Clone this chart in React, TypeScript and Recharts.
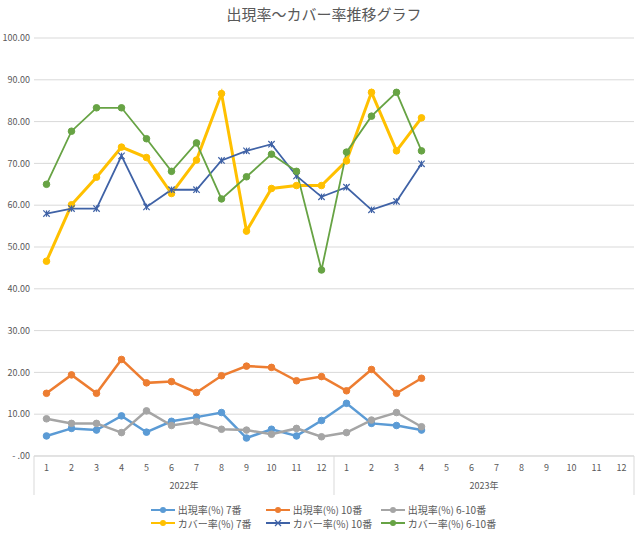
import React from 'react';
import { LineChart, Line, XAxis, YAxis, CartesianGrid, Legend } from 'recharts';

const months = ['1','2','3','4','5','6','7','8','9','10','11','12','1','2','3','4','5','6','7','8','9','10','11','12'];
const years = ['2022年','2022年','2022年','2022年','2022年','2022年','2022年','2022年','2022年','2022年','2022年','2022年','2023年','2023年','2023年','2023年','2023年','2023年','2023年','2023年','2023年','2023年','2023年','2023年'];

const appear7 = [4.8, 6.6, 6.2, 9.6, 5.7, 8.3, 9.3, 10.4, 4.3, 6.4, 4.8, 8.5, 12.6, 7.8, 7.3, 6.2];
const appear10 = [15.0, 19.4, 15.0, 23.1, 17.5, 17.8, 15.2, 19.2, 21.5, 21.2, 18.0, 19.0, 15.6, 20.7, 15.0, 18.6];
const appear610 = [8.9, 7.8, 7.8, 5.6, 10.8, 7.3, 8.2, 6.4, 6.2, 5.2, 6.6, 4.6, 5.6, 8.6, 10.4, 7.0];
const cover7 = [46.6, 60.1, 66.7, 73.9, 71.4, 62.8, 70.8, 86.7, 53.8, 64.0, 64.7, 64.7, 70.6, 87.0, 73.0, 80.9];
const cover10 = [58.0, 59.2, 59.2, 71.8, 59.6, 63.7, 63.7, 70.7, 73.0, 74.6, 67.0, 62.0, 64.3, 58.9, 60.9, 69.9];
const cover610 = [65.0, 77.7, 83.3, 83.3, 75.9, 68.1, 74.9, 61.5, 66.8, 72.2, 68.1, 44.5, 72.7, 81.3, 87.0, 73.0];

const yTicks = [0, 10, 20, 30, 40, 50, 60, 70, 80, 90, 100];

const seriesDefs = [
  { key: 'appear7', name: '出現率(%) 7番', color: '#5B9BD5', width: 2.5, marker: 'circle' },
  { key: 'appear10', name: '出現率(%) 10番', color: '#ED7D31', width: 2.5, marker: 'circle' },
  { key: 'appear610', name: '出現率(%) 6-10番', color: '#A5A5A5', width: 2.5, marker: 'circle' },
  { key: 'cover7', name: 'カバー率(%) 7番', color: '#FFC000', width: 3, marker: 'circle' },
  { key: 'cover10', name: 'カバー率(%) 10番', color: '#3F62A6', width: 1.8, marker: 'star' },
  { key: 'cover610', name: 'カバー率(%) 6-10番', color: '#67A344', width: 1.8, marker: 'circle' },
];

const seriesValues: Record<string, number[]> = { appear7, appear10, appear610, cover7, cover10, cover610 };

const data = months.map((m, i) => {
  const row: any = { idx: i, month: m, year: years[i] };
  for (const s of seriesDefs) {
    const v = seriesValues[s.key][i];
    row[s.key] = v === undefined ? null : v;
  }
  return row;
});

const FONT = '"Noto Sans CJK JP", "Noto Sans", sans-serif';
const TEXT = '#595959';
const AXIS = '#d9d9d9';

const MonthTick = (props: any) => {
  const { x, y, payload } = props;
  const i = Number(payload.value);
  const off = payload && payload.offset ? payload.offset : 0;
  const isLastOfYear = i === years.length - 1 || years[i] !== years[i + 1];
  const isMidOfYear = months[i] === '6';
  return (
    <g>
      <text x={x} y={y + 15} textAnchor="middle" fill={TEXT} fontSize={9} fontFamily={FONT}>{months[i]}</text>
      {i === 0 && <line x1={x - off} x2={x - off} y1={y} y2={y + 39} stroke={AXIS} />}
      {isLastOfYear && <line x1={x + off} x2={x + off} y1={y} y2={y + 39} stroke={AXIS} />}
      {isMidOfYear && (
        <text x={x + off} y={y + 33} textAnchor="middle" fill={TEXT} fontSize={9} fontFamily={FONT}>{years[i]}</text>
      )}
    </g>
  );
};

const makeDot = (color: string, marker: string) => (props: any) => {
  const { cx, cy, index, value } = props;
  if (cx == null || cy == null || value == null || (Array.isArray(value) && value[1] == null)) {
    return <g key={`d-${index}`} />;
  }
  if (marker === 'star') {
    const r = 3.2;
    return (
      <g key={`d-${index}`} stroke={color} strokeWidth={1.2}>
        <line x1={cx - r} y1={cy - r} x2={cx + r} y2={cy + r} />
        <line x1={cx - r} y1={cy + r} x2={cx + r} y2={cy - r} />
        <line x1={cx} y1={cy - r} x2={cx} y2={cy + r} />
      </g>
    );
  }
  return <circle key={`d-${index}`} cx={cx} cy={cy} r={3.3} fill={color} stroke={color} strokeWidth={1} />;
};

const LegendIcon = ({ color, marker }: { color: string; marker: string }) => (
  <svg width={26} height={10} style={{ marginRight: 2, flexShrink: 0 }}>
    <line x1={1} y1={5} x2={25} y2={5} stroke={color} strokeWidth={2} />
    {marker === 'star' ? (
      <g stroke={color} strokeWidth={1.2}>
        <line x1={10} y1={2} x2={16} y2={8} />
        <line x1={10} y1={8} x2={16} y2={2} />
      </g>
    ) : (
      <circle cx={13} cy={5} r={3} fill={color} />
    )}
  </svg>
);

const renderLegend = () => (
  <div style={{ display: 'flex', justifyContent: 'center', height: 34, paddingTop: 7, paddingLeft: 12, boxSizing: 'border-box' }}>
    <div style={{ display: 'grid', gridTemplateColumns: '115px 115px auto', rowGap: 0 }}>
      {seriesDefs.map((s) => (
        <div key={s.key} style={{ display: 'flex', alignItems: 'center', height: 13, fontSize: 10, color: TEXT, fontFamily: FONT, whiteSpace: 'nowrap' }}>
          <LegendIcon color={s.color} marker={s.marker} />
          <span>{s.name}</span>
        </div>
      ))}
    </div>
  </div>
);

export default function App() {
  return (
    <div style={{ position: 'relative', width: 640, height: 534, background: '#fff', fontFamily: FONT }}>
      <style>{'body{margin:0;}'}</style>
      <div style={{ position: 'absolute', top: 4, left: 4, width: 640, textAlign: 'center', fontSize: 15, color: TEXT, fontFamily: FONT, lineHeight: '20px' }}>
        出現率～カバー率推移グラフ
      </div>
      <LineChart width={640} height={534} data={data} margin={{ top: 38, right: 6, left: 0, bottom: 4 }}>
        <CartesianGrid vertical={false} stroke={AXIS} />
        <XAxis
          dataKey="idx"
          type="category"
          scale="band"
          interval={0}
          height={40}
          tickSize={0}
          tickMargin={0}
          tickLine={false}
          axisLine={{ stroke: AXIS }}
          tick={<MonthTick />}
        />
        <YAxis
          width={34}
          domain={[0, 100]}
          ticks={yTicks}
          interval={0}
          tickSize={0}
          tickMargin={4}
          tickLine={false}
          axisLine={false}
          tick={{ fill: TEXT, fontSize: 9, fontFamily: FONT }}
          tickFormatter={(v: number) => (v === 0 ? '- .00' : v.toFixed(2))}
        />
        <Legend verticalAlign="bottom" align="center" content={renderLegend} />
        {seriesDefs.map((s) => (
          <Line
            key={s.key}
            type="linear"
            dataKey={s.key}
            name={s.name}
            stroke={s.color}
            strokeWidth={s.width}
            dot={makeDot(s.color, s.marker)}
            activeDot={false}
            isAnimationActive={false}
            connectNulls={false}
          />
        ))}
      </LineChart>
    </div>
  );
}
